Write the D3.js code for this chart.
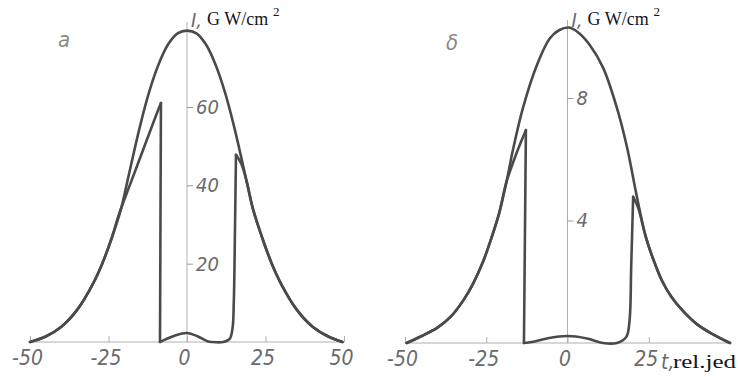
<!DOCTYPE html>
<html>
<head>
<meta charset="utf-8">
<script src="https://cdn.jsdelivr.net/npm/d3@7"></script>
<style>
  html, body { margin: 0; padding: 0; background: #ffffff; }
  svg { display: block; }
  .tick text { font-family: "Liberation Sans Narrow", "DejaVu Sans Condensed", sans-serif; font-style: italic; fill: #6a6a6a; }
</style>
</head>
<body>
<svg id="chart" width="738" height="377"></svg>
<script>
// ---------------- DATA ----------------
// Panel "a": intensity I (GW/cm^2) vs time t (rel. units), pairs [t, I]
const panelA_outer = [
  [-50, 0], [-45, 1.4], [-40, 3.9], [-35, 8.2], [-30, 14.8], [-27, 20], [-24, 26.5],
  [-21, 34], [-19, 41], [-15, 55], [-12, 64], [-9, 71], [-6, 76], [-3, 78.8],
  [0, 79.5], [3, 78.8], [6, 76], [9, 71], [12, 64], [15, 55], [19, 41],
  [21, 34], [24, 26.5], [27, 20], [30, 14.8], [35, 8.2], [40, 3.9], [45, 1.4], [49.5, 0]
];
// inner (compressed) pulse, as smooth pieces joined at sharp corners
const panelA_innerPieces = [
  [[-50, 0], [-45, 1.4], [-40, 3.9], [-35, 8.2], [-30, 14.8], [-27, 20], [-24, 26.5],
   [-21.5, 33], [-18, 40.5], [-14, 49], [-10.5, 56.5], [-8.3, 61]],
  [[-8.3, 61], [-8.6, 0]],
  [[-8.6, 0], [-7, 0.6], [-4, 1.6], [0, 2.3], [3.5, 1.4], [6.5, 0.2], [8, 0], [11.5, 0],
   [13.6, 0.8], [14.5, 3.5], [14.9, 10], [15.3, 30], [15.6, 47.8]],
  [[15.6, 47.8], [17.3, 45.5], [19, 41], [21, 34], [24, 26.5], [27, 20], [30, 14.8],
   [35, 8.2], [40, 3.9], [45, 1.4], [49.5, 0]]
];
const panelA_xTicks = [-50, -25, 0, 25, 50];
const panelA_xTickLabels = ["-50", "-25", "0", "25", "50"];
const panelA_yTicks = [20, 40, 60];

// Panel "б"
const panelB_outer = [
  [-49.5, 0], [-45, 0.22], [-40, 0.5], [-36, 0.85], [-32, 1.4], [-29, 1.95], [-26, 2.65],
  [-23.5, 3.4], [-21, 4.25], [-18.5, 5.4], [-16.8, 6.3], [-13.7, 7.68], [-9.4, 9.08],
  [-5.4, 9.95], [-2.5, 10.22], [0.5, 10.3], [3.5, 10.12], [6.9, 9.72], [10.9, 9.0],
  [15.2, 7.68], [18.3, 6.4], [21.4, 4.75], [24, 3.5], [26.5, 2.7], [29, 2.05],
  [32, 1.5], [35.5, 1.05], [40, 0.6], [44.5, 0.3], [50, 0]
];
const panelB_innerPieces = [
  [[-49.5, 0], [-45, 0.22], [-40, 0.5], [-36, 0.85], [-32, 1.4], [-29, 1.95], [-26, 2.65],
   [-23.5, 3.4], [-21, 4.25], [-18.8, 5.25], [-15.5, 6.25], [-12.8, 6.95]],
  [[-12.8, 6.95], [-13.4, 0]],
  [[-13.4, 0], [-11, 0.03], [-6.3, 0.15], [-0.15, 0.23], [6, 0.15], [10.9, 0], [15.2, 0],
   [18.1, 0.2], [19.1, 0.75], [19.6, 2.5], [20.2, 4.77]],
  [[20.2, 4.77], [21.8, 4.4], [24, 3.5], [26.5, 2.7], [29, 2.05], [32, 1.5], [35.5, 1.05],
   [40, 0.6], [44.5, 0.3], [50, 0]]
];
const panelB_xTicks = [-50, -25, 0, 25];
const panelB_xTickLabels = ["-50", "-25", "0", "25"];
const panelB_yTicks = [4, 8];

const panelLabels = ["a", "δ"];
const yUnitText = "G W/cm";
const xUnitText = "rel.jed";

// ---------------- DRAW ----------------
const svg = d3.select("#chart");
svg.append("rect").attr("width", 738).attr("height", 377).attr("fill", "#ffffff");

const curveColor = "#4a4a4a";
const axisColor = "#b0b0b0";

function drawPanel(cfg) {
  const g = svg.append("g");
  const x = d3.scaleLinear().domain([-50, 50]).range(cfg.xRange);
  const y = d3.scaleLinear().domain(cfg.yDomain).range(cfg.yRange);

  g.append("line")
    .attr("x1", x(-50)).attr("x2", x(50))
    .attr("y1", y(0)).attr("y2", y(0))
    .attr("stroke", axisColor).attr("stroke-width", 1);
  g.append("line")
    .attr("x1", x(0)).attr("x2", x(0))
    .attr("y1", cfg.axisTop).attr("y2", y(0))
    .attr("stroke", axisColor).attr("stroke-width", 1);

  const xa = d3.axisBottom(x)
    .tickValues(cfg.xTicks)
    .tickFormat((d, i) => cfg.xTickLabels[i])
    .tickSizeInner(-6).tickSizeOuter(0).tickPadding(8);
  const xg = g.append("g").attr("transform", `translate(0,${y(0)})`).call(xa);
  xg.select(".domain").remove();
  xg.selectAll(".tick line").attr("stroke", axisColor);
  xg.selectAll(".tick text").attr("font-size", 21).attr("dx", -3);

  const ya = d3.axisRight(y)
    .tickValues(cfg.yTicks)
    .tickSizeInner(6).tickSizeOuter(0).tickPadding(3);
  const yg = g.append("g").attr("transform", `translate(${x(0)},0)`).call(ya);
  yg.select(".domain").remove();
  yg.selectAll(".tick line").attr("stroke", "#999");
  yg.selectAll(".tick text").attr("font-size", 20);

  const line = d3.line()
    .x(d => x(d[0])).y(d => y(d[1]))
    .curve(d3.curveCatmullRom.alpha(0.5));

  g.append("path").datum(cfg.outer)
    .attr("d", line).attr("fill", "none")
    .attr("stroke", curveColor).attr("stroke-width", 2.6)
    .attr("stroke-linejoin", "round").attr("stroke-linecap", "round");
  g.selectAll("path.inner").data(cfg.innerPieces).enter().append("path")
    .attr("class", "inner")
    .attr("d", line).attr("fill", "none")
    .attr("stroke", curveColor).attr("stroke-width", 2.6)
    .attr("stroke-linejoin", "round").attr("stroke-linecap", "round");

  g.append("text")
    .attr("x", cfg.letterPos[0]).attr("y", cfg.letterPos[1])
    .attr("font-family", "Liberation Sans Narrow, DejaVu Sans Condensed, sans-serif")
    .attr("font-style", "italic").attr("font-size", 22).attr("fill", "#8a8a8a")
    .text(cfg.letter);

  const ax0 = x(0);
  g.append("text")
    .attr("x", ax0 + 4).attr("y", 27)
    .attr("font-family", "Liberation Sans Narrow, DejaVu Sans Condensed, sans-serif")
    .attr("font-style", "italic").attr("font-size", 20).attr("fill", "#6a6a6a")
    .text("I,");
  g.append("text")
    .attr("x", ax0 + 20).attr("y", 25)
    .attr("font-family", "Liberation Serif, Times New Roman, serif")
    .attr("font-size", 18).attr("fill", "#15151f")
    .text(yUnitText);
  g.append("text")
    .attr("x", ax0 + 86).attr("y", 16)
    .attr("font-family", "Liberation Serif, Times New Roman, serif")
    .attr("font-size", 13).attr("fill", "#15151f")
    .text("2");
  return {x, y, g};
}

drawPanel({
  xRange: [30, 344], yDomain: [0, 60], yRange: [342, 107], axisTop: 22,
  xTicks: panelA_xTicks, xTickLabels: panelA_xTickLabels, yTicks: panelA_yTicks,
  outer: panelA_outer, innerPieces: panelA_innerPieces,
  letter: panelLabels[0], letterPos: [58, 47]
});

const pb = drawPanel({
  xRange: [405, 730], yDomain: [0, 8], yRange: [343, 98], axisTop: 20,
  xTicks: panelB_xTicks, xTickLabels: panelB_xTickLabels, yTicks: panelB_yTicks,
  outer: panelB_outer, innerPieces: panelB_innerPieces,
  letter: panelLabels[1], letterPos: [446, 50]
});

pb.g.append("text")
  .attr("x", 661).attr("y", 369)
  .attr("font-family", "Liberation Sans Narrow, DejaVu Sans Condensed, sans-serif")
  .attr("font-style", "italic").attr("font-size", 21).attr("fill", "#6a6a6a")
  .text("t,");
pb.g.append("text")
  .attr("x", 673).attr("y", 368)
  .attr("font-family", "Liberation Serif, Times New Roman, serif")
  .attr("font-size", 19).attr("fill", "#15151f")
  .attr("textLength", 63).attr("lengthAdjust", "spacingAndGlyphs")
  .text(xUnitText);
</script>
</body>
</html>
